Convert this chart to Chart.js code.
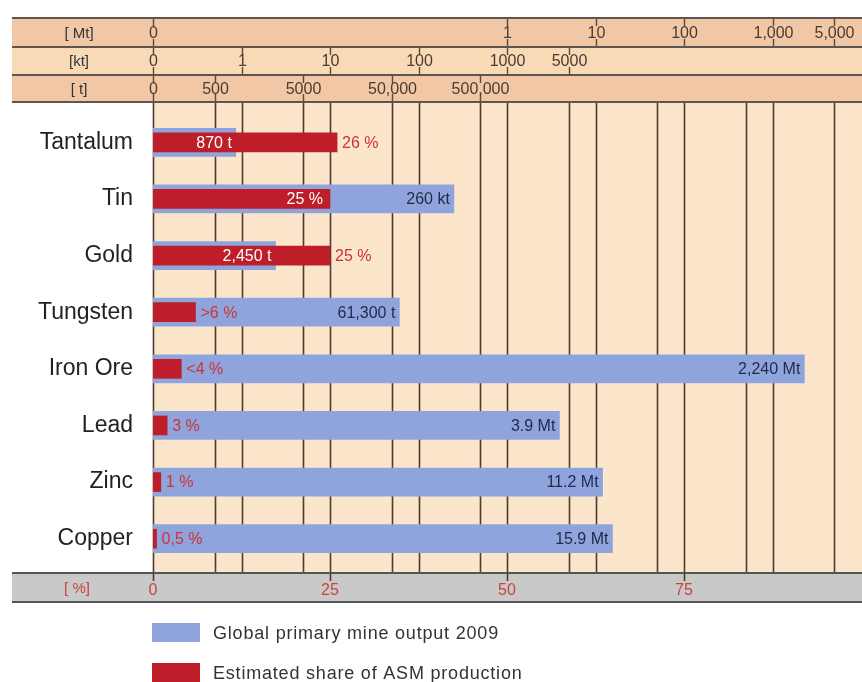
<!DOCTYPE html>
<html>
<head>
<meta charset="utf-8">
<script src="https://cdn.jsdelivr.net/npm/chart.js@4"></script>
<style>
  html, body { margin: 0; padding: 0; background: #fff; }
  #wrap { width: 862px; height: 682px; }
</style>
</head>
<body>
<div id="wrap"><canvas id="chart" width="862" height="682"></canvas></div>
<script>
// categories and values
var categories = ['Tantalum', 'Tin', 'Gold', 'Tungsten', 'Iron Ore', 'Lead', 'Zinc', 'Copper'];
// global output, as position on the shared (log) scale in %
var outputPos = [11.7, 42.5, 17.3, 34.8, 92.0, 57.4, 63.5, 64.9];
var outputLabels = ['870 t', '260 kt', '2,450 t', '61,300 t', '2,240 Mt', '3.9 Mt', '11.2 Mt', '15.9 Mt'];
// estimated ASM share in %
var asmShare = [26, 25, 25, 6, 4, 2, 1.1, 0.5];
var shareLabels = ['26 %', '25 %', '25 %', '>6 %', '<4 %', '3 %', '1 %', '0,5 %'];

// grid lines and tick labels
var gridValues = [0, 8.75, 12.5, 21.25, 25, 33.75, 37.5, 46.25, 50, 58.75, 62.5, 71.25, 75, 83.75, 87.5, 96.25];
var pctTicks = [0, 25, 50, 75];
var mtTicks = [0, 50, 62.5, 75, 87.5, 96.25];
var mtLabels = ['0', '1', '10', '100', '1,000', '5,000'];
var ktTicks = [0, 12.5, 25, 37.5, 50, 58.75];
var ktLabels = ['0', '1', '10', '100', '1000', '5000'];
var tTicks = [0, 8.75, 21.25, 33.75, 46.25];
var tLabels = ['0', '500', '5000', '50,000', '500,000'];

var FONT = '"Liberation Sans", Arial, Helvetica, sans-serif';
var BLUE = '#8fa4dc';
var RED = '#bd1e2a';

// backgrounds, header rows, grid, bottom band
var backdrop = {
    id: 'backdrop',
    beforeDraw: function (chart) {
        var ctx = chart.ctx;
        var x = chart.scales.x;
        var right = 862;
        ctx.save();
        ctx.fillStyle = '#fff';
        ctx.fillRect(0, 0, 862, 682);

        // plot background
        ctx.fillStyle = '#fbe6cc';
        ctx.fillRect(x.getPixelForValue(0), 102, right - x.getPixelForValue(0), 471);

        // header rows
        var rows = [
            { top: 18, bottom: 47, color: '#f1c7a5', name: '[ Mt]', ticks: mtTicks, labels: mtLabels },
            { top: 47, bottom: 75, color: '#f8dbb6', name: '[kt]', ticks: ktTicks, labels: ktLabels },
            { top: 75, bottom: 102, color: '#f1c7a5', name: '[ t]', ticks: tTicks, labels: tLabels }
        ];
        rows.forEach(function (r) {
            ctx.fillStyle = r.color;
            ctx.fillRect(12, r.top, right - 12, r.bottom - r.top);
        });

        // grid lines
        ctx.strokeStyle = '#4e3d2e';
        ctx.lineWidth = 1.6;
        gridValues.forEach(function (v) {
            var px = Math.round(x.getPixelForValue(v)) + 0.5;
            ctx.beginPath();
            ctx.moveTo(px, 102);
            ctx.lineTo(px, 573);
            ctx.stroke();
        });

        // header ticks and labels
        ctx.font = '16px ' + FONT;
        ctx.textAlign = 'center';
        ctx.textBaseline = 'middle';
        rows.forEach(function (r) {
            ctx.strokeStyle = '#5a483a';
            ctx.lineWidth = 1.4;
            r.ticks.forEach(function (v, i) {
                var px = Math.round(x.getPixelForValue(v)) + 0.5;
                ctx.beginPath();
                ctx.moveTo(px, r.top);
                ctx.lineTo(px, r.top + 8);
                ctx.moveTo(px, r.bottom - 8);
                ctx.lineTo(px, r.bottom);
                ctx.stroke();
                var lx = px;
                if (r.labels[i] === '5,000') lx = Math.min(lx, 836);
                ctx.fillStyle = '#4a3b30';
                ctx.fillText(r.labels[i], lx, (r.top + r.bottom) / 2 + 1);
            });
            ctx.fillStyle = '#333';
            ctx.font = '15px ' + FONT;
            ctx.fillText(r.name, 79, (r.top + r.bottom) / 2 + 1);
            ctx.font = '16px ' + FONT;
        });
        ctx.strokeStyle = '#5e5550';
        ctx.lineWidth = 2;
        [18, 47, 75, 102].forEach(function (y) {
            ctx.beginPath();
            ctx.moveTo(12, y);
            ctx.lineTo(right, y);
            ctx.stroke();
        });

        // bottom percent band
        ctx.fillStyle = '#c9c9c9';
        ctx.fillRect(12, 573, right - 12, 29);
        ctx.strokeStyle = '#555';
        ctx.lineWidth = 2;
        [573, 602].forEach(function (y) {
            ctx.beginPath();
            ctx.moveTo(12, y);
            ctx.lineTo(right, y);
            ctx.stroke();
        });
        ctx.strokeStyle = '#4e3d2e';
        ctx.lineWidth = 1.6;
        pctTicks.forEach(function (v) {
            var px = Math.round(x.getPixelForValue(v)) + 0.5;
            ctx.beginPath();
            ctx.moveTo(px, 573);
            ctx.lineTo(px, 581);
            ctx.stroke();
        });
        ctx.fillStyle = '#c8453f';
        ctx.font = '15px ' + FONT;
        ctx.fillText('[ %]', 77, 589);
        ctx.restore();
    },
    afterDatasetsDraw: function (chart) {
        var ctx = chart.ctx;
        var redMeta = chart.getDatasetMeta(0);
        var blueMeta = chart.getDatasetMeta(1);
        ctx.save();
        ctx.font = '16px ' + FONT;
        ctx.textBaseline = 'middle';
        categories.forEach(function (c, i) {
            var red = redMeta.data[i];
            var blue = blueMeta.data[i];
            var redW = red.x - red.base;
            // output label at end of blue bar
            ctx.textAlign = 'right';
            ctx.fillStyle = asmShare[i] > outputPos[i] ? '#fff' : '#1d2a48';
            ctx.fillText(outputLabels[i], blue.x - 4, blue.y + 1);
            // share label
            if (asmShare[i] < outputPos[i] && redW > 80) {
                ctx.textAlign = 'right';
                ctx.fillStyle = '#fff';
                ctx.fillText(shareLabels[i], red.x - 7, red.y + 1);
            } else {
                ctx.textAlign = 'left';
                ctx.fillStyle = '#cc3338';
                ctx.fillText(shareLabels[i], red.x + 5, red.y + 1);
            }
        });
        ctx.restore();
    },
    afterDraw: function (chart) {
        var ctx = chart.ctx;
        ctx.save();
        ctx.fillStyle = BLUE;
        ctx.fillRect(152, 623, 48, 19);
        ctx.fillStyle = RED;
        ctx.fillRect(152, 663, 48, 19);
        ctx.fillStyle = '#333';
        ctx.font = '18px ' + FONT;
        ctx.letterSpacing = '0.8px';
        ctx.textAlign = 'left';
        ctx.textBaseline = 'middle';
        ctx.fillText(chart.data.datasets[1].label, 213, 634);
        ctx.fillText(chart.data.datasets[0].label, 213, 674);
        ctx.restore();
    }
};

var chart = new Chart(document.getElementById('chart'), {
    type: 'bar',
    data: {
        labels: categories,
        datasets: [{
            label: 'Estimated share of ASM production',
            data: asmShare,
            backgroundColor: RED,
            barThickness: 19,
            grouped: false,
            order: 0
        }, {
            label: 'Global primary mine output 2009',
            data: outputPos,
            backgroundColor: BLUE,
            barThickness: 28,
            grouped: false,
            order: 1
        }]
    },
    options: {
        indexAxis: 'y',
        responsive: false,
        animation: false,
        devicePixelRatio: 1,
        layout: { padding: { top: 114, right: 1, left: 0, bottom: 80 } },
        scales: {
            x: {
                type: 'linear',
                min: 0,
                max: 100,
                position: 'bottom',
                afterBuildTicks: function (scale) {
                    scale.ticks = gridValues.map(function (v) { return { value: v }; });
                },
                afterFit: function (scale) { scale.height = 35; },
                grid: { display: false, drawTicks: false },
                border: { display: false },
                ticks: {
                    autoSkip: false,
                    maxRotation: 0,
                    padding: 14,
                    color: '#c8453f',
                    font: { family: FONT, size: 16 },
                    callback: function (v) { return pctTicks.indexOf(v) >= 0 ? String(v) : ''; }
                }
            },
            y: {
                afterFit: function (scale) { scale.width = 153; },
                grid: { display: false, drawTicks: false },
                border: { display: false },
                ticks: {
                    padding: 20,
                    color: '#222',
                    font: { family: FONT, size: 23 }
                }
            }
        },
        plugins: {
            legend: { display: false },
            tooltip: { enabled: false }
        }
    },
    plugins: [backdrop]
});
</script>
</body>
</html>
